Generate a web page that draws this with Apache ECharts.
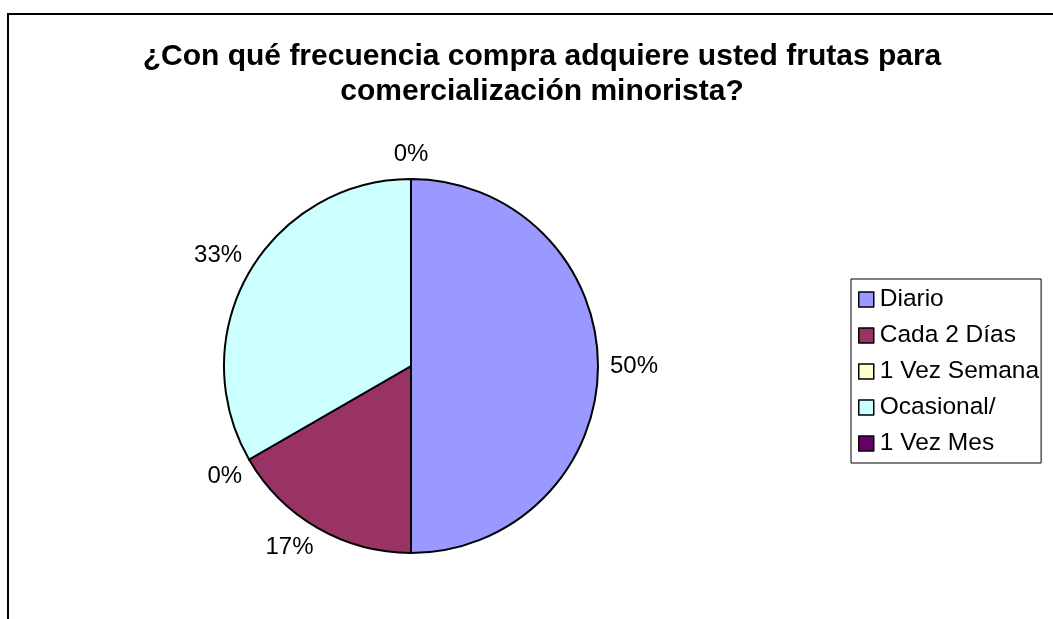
<!DOCTYPE html>
<html>
<head>
<meta charset="utf-8">
<script src="https://cdn.jsdelivr.net/npm/echarts@6/dist/echarts.min.js"></script>
<style>
  html, body { margin: 0; padding: 0; background: #fff; }
  #chart { width: 1053px; height: 619px; }
</style>
</head>
<body>
<div id="chart"></div>
<script>
// Survey answers: how often fruit is bought for retail resale
const categories = ['Diario', 'Cada 2 Días', '1 Vez Semana', 'Ocasional/', '1 Vez Mes'];
const responses = [3, 1, 0, 2, 0];
const sliceColors = ['#9999FF', '#993366', '#FFFFCC', '#CCFFFF', '#660066'];
const titleLines = ['¿Con qué frecuencia compra adquiere usted frutas para', 'comercialización minorista?'];

const FONT = '"Liberation Sans", Arial, Helvetica, sans-serif';
const AXIS_GAP = 12;    // label gap for slices pointing straight out (up/down/left/right)
const CORNER_GAP = 8;   // label gap for slices pointing diagonally
const GUIDE_LEN = 10;   // hidden guide length, used only to read slice direction

const chart = echarts.init(document.getElementById('chart'), null, { renderer: 'canvas' });

// Places each percentage label just outside its slice: the label box's
// nearest side (or corner, for diagonal slices) sits a small gap off the rim.
function placeLabel(params) {
  const pts = params.labelLinePoints;
  if (!pts) return {};
  const ux = (pts[1][0] - pts[0][0]) / GUIDE_LEN;
  const uy = (pts[1][1] - pts[0][1]) / GUIDE_LEN;
  const hw = params.labelRect.width / 2;
  const hh = params.labelRect.height / 2;
  const ex = pts[0][0], ey = pts[0][1];
  let x, y;
  if (Math.abs(ux) < 0.05 || Math.abs(uy) < 0.05) {
    const ax = Math.abs(ux) > 1e-6 ? hw / Math.abs(ux) : Infinity;
    const ay = Math.abs(uy) > 1e-6 ? hh / Math.abs(uy) : Infinity;
    const d = AXIS_GAP + Math.min(ax, ay);
    x = ex + ux * d;
    y = ey + uy * d;
  } else {
    x = ex + ux * CORNER_GAP + Math.sign(ux) * hw;
    y = ey + uy * CORNER_GAP + Math.sign(uy) * hh;
  }
  return { x: x, y: y, align: 'center', verticalAlign: 'middle' };
}

const option = {
  animation: false,
  backgroundColor: '#ffffff',
  title: {
    text: titleLines.join('\n'),
    left: 542,
    top: 39,
    padding: 0,
    textAlign: 'center',
    textVerticalAlign: 'top',
    textStyle: {
      fontFamily: FONT,
      fontSize: 30,
      fontWeight: 'bold',
      color: '#000',
      lineHeight: 35
    }
  },
  legend: {
    orient: 'vertical',
    left: 851,
    top: 279,
    padding: [8, 2, 7, 7],
    itemGap: 11,
    itemWidth: 15,
    itemHeight: 15,
    icon: 'rect',
    borderColor: '#000',
    borderWidth: 1,
    selectedMode: false,
    itemStyle: { borderColor: '#000', borderWidth: 1.5 },
    textStyle: { fontFamily: FONT, fontSize: 24.5, color: '#000', lineHeight: 24, padding: [0, 0, 0, 1] },
    data: categories
  },
  graphic: [{
    type: 'rect',
    shape: { x: 8, y: 14, width: 1100, height: 700 },
    style: { fill: 'none', stroke: '#000', lineWidth: 2 },
    silent: true
  }],
  series: [{
    type: 'pie',
    center: [411, 366],
    radius: 187,
    startAngle: 90,
    clockwise: true,
    avoidLabelOverlap: false,
    stillShowZeroSum: true,
    emphasis: { disabled: true },
    itemStyle: { borderColor: '#000', borderWidth: 2 },
    label: {
      show: true,
      position: 'outside',
      fontFamily: FONT,
      fontSize: 24,
      color: '#000',
      lineHeight: 26,
      distanceToLabelLine: 0,
      formatter: p => Math.round(p.percent) + '%'
    },
    labelLine: {
      show: true,
      length: GUIDE_LEN,
      length2: 0,
      lineStyle: { width: 0, opacity: 0 }
    },
    labelLayout: placeLabel,
    data: categories.map((name, i) => ({
      name: name,
      value: responses[i],
      itemStyle: { color: sliceColors[i] }
    }))
  }]
};

chart.setOption(option);
</script>
</body>
</html>
